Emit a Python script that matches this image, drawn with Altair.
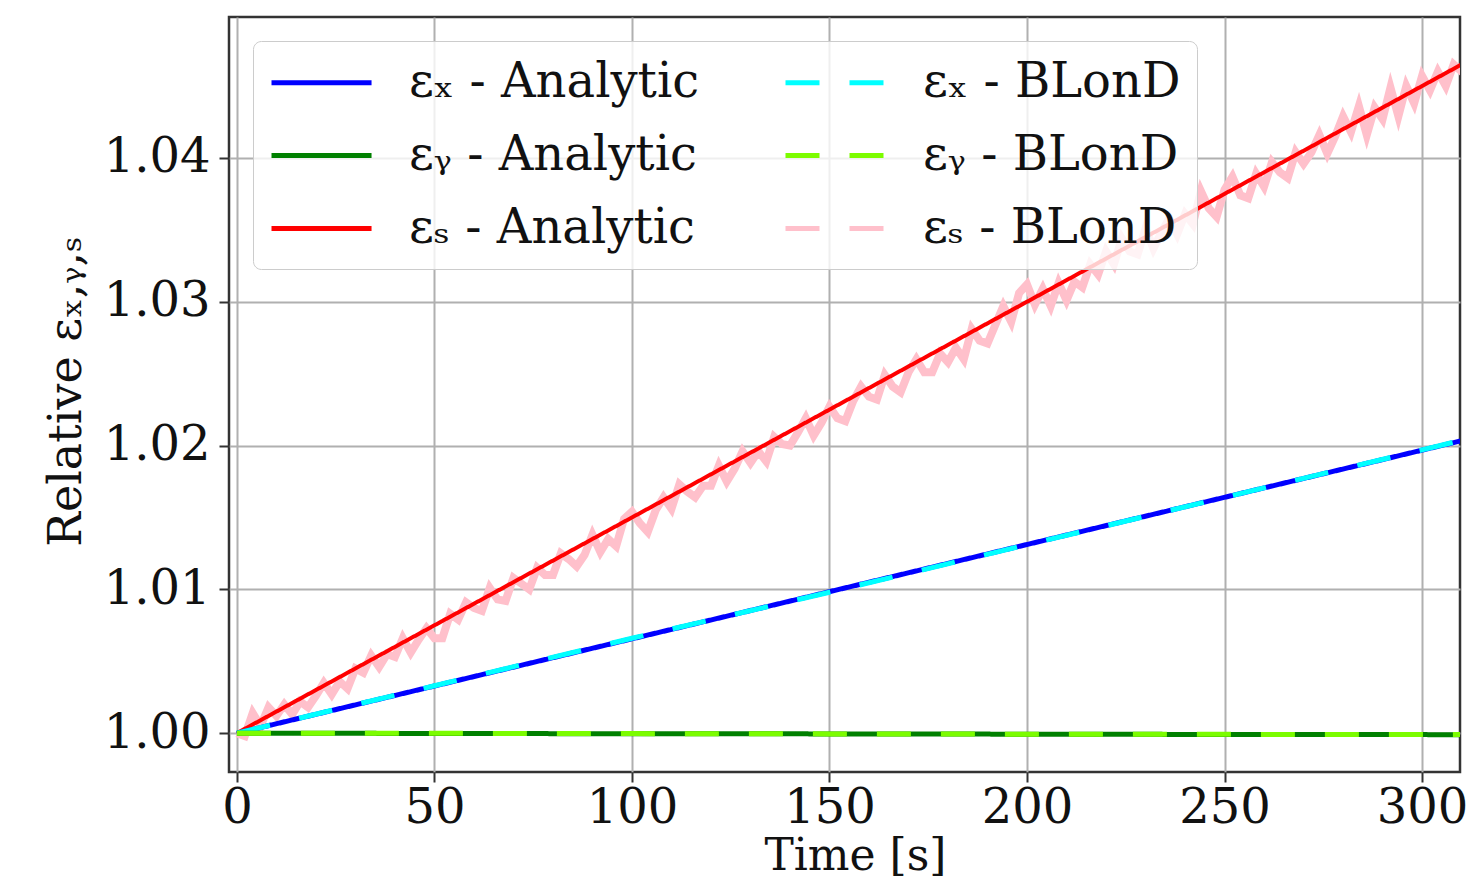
import altair as alt
import pandas as pd

# ---- data ----
t_coarse = [0, 50, 100, 150, 200, 250, 300, 312]
ex_analytic = [1.0, 1.00328, 1.00656, 1.00984, 1.01312, 1.0164, 1.01968, 1.02047]
ex_blond = [1.0, 1.0033, 1.0066, 1.0098, 1.0131, 1.0164, 1.0197, 1.0205]
ey_analytic = [1.0, 0.99998, 0.99996, 0.99995, 0.99993, 0.99991, 0.99990, 0.99989]
ey_blond = [1.0, 0.99999, 0.99997, 0.99995, 0.99993, 0.99992, 0.99990, 0.99990]
es_analytic = [1.0, 1.0075, 1.015, 1.0225, 1.030, 1.0375, 1.045, 1.0468]

t_fine = list(range(0, 313, 2))
es_blond = [
    1.0000, 0.9998, 1.0014, 1.0005, 1.0018, 1.0012, 1.0020, 1.0013, 1.0022, 1.0018,
    1.0026, 1.0035, 1.0027, 1.0036, 1.0031, 1.0045, 1.0042, 1.0054, 1.0046, 1.0055,
    1.0053, 1.0066, 1.0056, 1.0065, 1.0073, 1.0066, 1.0066, 1.0083, 1.0079, 1.0091,
    1.0087, 1.0085, 1.0101, 1.0093, 1.0092, 1.0108, 1.0104, 1.0100, 1.0115, 1.0110,
    1.0110, 1.0125, 1.0121, 1.0116, 1.0124, 1.0138, 1.0126, 1.0135, 1.0130, 1.0149,
    1.0154, 1.0146, 1.0140, 1.0155, 1.0164, 1.0156, 1.0173, 1.0168, 1.0164, 1.0172,
    1.0172, 1.0186, 1.0175, 1.0184, 1.0196, 1.0188, 1.0196, 1.0189, 1.0206, 1.0201,
    1.0200, 1.0209, 1.0219, 1.0207, 1.0216, 1.0227, 1.0219, 1.0217, 1.0231, 1.0241,
    1.0234, 1.0232, 1.0249, 1.0241, 1.0237, 1.0251, 1.0260, 1.0251, 1.0251, 1.0264,
    1.0258, 1.0268, 1.0260, 1.0281, 1.0273, 1.0271, 1.0284, 1.0297, 1.0286, 1.0306,
    1.0312, 1.0298, 1.0309, 1.0297, 1.0313, 1.0301, 1.0314, 1.0310, 1.0326, 1.0319,
    1.0335, 1.0326, 1.0344, 1.0335, 1.0333, 1.0351, 1.0337, 1.0348, 1.0358, 1.0347,
    1.0361, 1.0354, 1.0377, 1.0365, 1.0359, 1.0378, 1.0387, 1.0374, 1.0372, 1.0389,
    1.0380, 1.0397, 1.0390, 1.0386, 1.0404, 1.0396, 1.0404, 1.0416, 1.0403, 1.0415,
    1.0429, 1.0418, 1.0436, 1.0416, 1.0435, 1.0427, 1.0449, 1.0429, 1.0450, 1.0438,
    1.0457, 1.0447, 1.0460, 1.0450, 1.0465, 1.0460, 1.0469,
]

x_ticks = [0, 50, 100, 150, 200, 250, 300]
y_ticks = [1.00, 1.01, 1.02, 1.03, 1.04]

S_XA = "εₓ - Analytic"
S_XB = "εₓ - BLonD"
S_YA = "εᵧ - Analytic"
S_YB = "εᵧ - BLonD"
S_SA = "εₛ - Analytic"
S_SB = "εₛ - BLonD"
series_order = [S_XA, S_XB, S_YA, S_YB, S_SA, S_SB]
series_colors = ["#0000ff", "#00ffff", "#008000", "#7cfc00", "#ff0000", "#ffc0cb"]
SOLID = [1, 0]
DASH = [34, 30]
series_dash = [SOLID, DASH, SOLID, DASH, SOLID, DASH]

rows = []
for name, vals in [(S_XA, ex_analytic), (S_XB, ex_blond), (S_YA, ey_analytic),
                   (S_YB, ey_blond), (S_SA, es_analytic)]:
    for t, v in zip(t_coarse, vals):
        rows.append({"t": t, "v": v, "series": name})
for t, v in zip(t_fine, es_blond):
    rows.append({"t": t, "v": v, "series": S_SB})
df = pd.DataFrame(rows)

FONT = "DejaVu Serif"

legend = alt.Legend(
    title=None, orient="top-left", offset=24, columns=2, direction="horizontal",
    padding=16, fillColor="rgba(255,255,255,0.8)", strokeColor="#cccccc",
    cornerRadius=8, labelFont=FONT, labelFontSize=48, labelColor="#111111",
    labelLimit=1000, labelOffset=89, rowPadding=23, columnPadding=75,
    symbolType="M-1,0L3.35,0", symbolSize=2116, symbolStrokeWidth=5, symbolOpacity=1,
)

x_enc = alt.X("t:Q", scale=alt.Scale(domain=[-2, 309.6], nice=False, zero=False),
              axis=alt.Axis(values=x_ticks, title="Time [s]", format="d",
                            titleX=626, titleY=106, titleBaseline="bottom",
                            titleFontSize=44, labelPadding=2))
y_enc = alt.Y("v:Q", scale=alt.Scale(domain=[0.9973, 1.0498], nice=False, zero=False),
              axis=alt.Axis(values=y_ticks, title="Relative εₓ,ᵧ,ₛ", format=".2f",
                            titleX=-149, titleY=374, titleAngle=270,
                            titleAlign="center", titleBaseline="alphabetic",
                            labelPadding=9))
color_enc = alt.Color("series:N", scale=alt.Scale(domain=series_order, range=series_colors),
                      legend=legend)
dash_enc = alt.StrokeDash("series:N", scale=alt.Scale(domain=series_order, range=series_dash),
                          legend=legend)

base = alt.Chart(df)


def layer(name, width, dashed=True):
    enc = dict(x=x_enc, y=y_enc, color=color_enc)
    if dashed:
        enc["strokeDash"] = dash_enc
    return (base.transform_filter(alt.datum.series == name)
            .mark_line(strokeWidth=width, clip=True, strokeCap="butt")
            .encode(**enc))


chart = alt.layer(
    layer(S_SB, 8, dashed=False),
    layer(S_SA, 4),
    layer(S_XA, 5),
    layer(S_XB, 5),
    layer(S_YA, 5),
    layer(S_YB, 5),
).properties(
    width=1231, height=755,
    autosize=alt.AutoSizeParams(type="none"),
    padding={"left": 221, "top": 9, "right": 8, "bottom": 106},
).configure_view(
    stroke="#333333", strokeWidth=2.5
).configure_axis(
    labelFont=FONT, labelFontSize=48, labelColor="#111111",
    titleFont=FONT, titleFontSize=46, titleFontWeight="normal", titleColor="#111111",
    grid=True, gridColor="#b0b0b0", gridWidth=2, gridOpacity=1,
    domain=False, tickColor="#333333", tickSize=10, tickWidth=2,
).configure_axisY(
    labelBaseline="middle",
)

chart.save("out.html", embed_options={"renderer": "svg", "actions": False})
